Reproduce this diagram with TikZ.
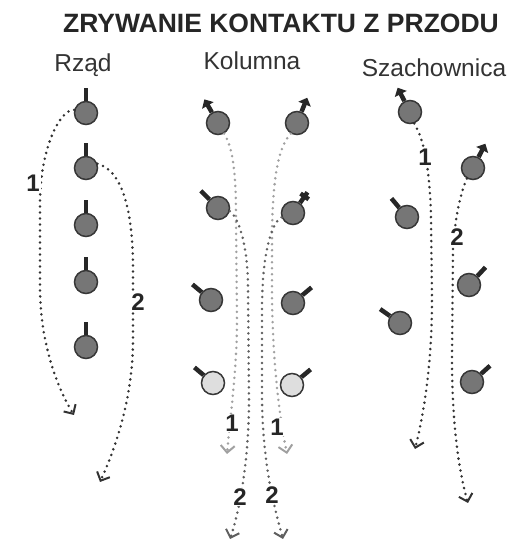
\documentclass[tikz,border=0pt]{standalone}
\usepackage{fontspec}
\setmainfont{Liberation Sans}
\usepackage{xcolor}
\definecolor{bodygray}{RGB}{118, 118, 118}
\definecolor{rimgray}{RGB}{55, 55, 55}
\definecolor{palefill}{RGB}{222, 222, 222}
\definecolor{trailgray}{RGB}{50, 50, 50}
\definecolor{paletrail}{RGB}{160, 160, 160}
\definecolor{midtrail}{RGB}{95, 95, 95}
\usetikzlibrary{arrows.meta, calc}

\tikzset{
  soldier/.style={circle, draw=rimgray, fill=bodygray, line width=1.5pt,
    minimum size=23pt, inner sep=0pt},
  rear/.style={soldier, fill=palefill},
  rifle/.style={line width=4.5pt, draw=rimgray!70!black},
  lead/.style={rifle, -{Triangle[length=7pt,width=13pt]}},
  trail/.style={line width=2.8pt, draw=trailgray, line cap=round,
    dash pattern=on 0pt off 6pt,
    -{Straight Barb[length=7pt,width=14pt,line width=2pt]}},
  num/.style={font=\bfseries\fontsize{24}{24}\selectfont, fill=white,
    inner sep=1pt, text=black!85},
  heading/.style={font=\fontsize{24.5}{24.5}\selectfont, anchor=base, text=black!80}
}

\begin{document}
\begin{tikzpicture}[x=1pt, y=1pt]
  \useasboundingbox (0,0) rectangle (518,549);

  % titles
  \node[anchor=base, text=black!85, font=\bfseries\fontsize{26.5}{26.5}\selectfont]
    (title) at (281,516) {ZRYWANIE KONTAKTU Z PRZODU};
  \node[heading] (hrow) at (83,477) {Rząd};
  \node[heading] (hcol) at (252,479) {Kolumna};
  \node[heading] (hchk) at (434,472) {Szachownica};

  % Rzad
  \foreach \i/\y in {1/436, 2/381, 3/324, 4/267, 5/202} {
    \node[soldier] (r\i) at (86,\y) {};
    \draw[rifle] (r\i.90) -- ++(90:13);
  }
  \coordinate (ar1) at (74,134);
  \coordinate (ar2) at (100,67);
  \draw[trail] (r1.165) .. controls (60,440) and (40,400) .. (40,346)
    -- (40,262) .. controls (40,205) and (58,160) .. (ar1);
  \draw[trail] (r2.20) .. controls (125,378) and (133,330) .. (133,280)
    -- (133,210) .. controls (133,150) and (115,100) .. (ar2);
  \node[num] (nr1) at (33,366) {1};
  \node[num] (nr2) at (138,247) {2};

  % Kolumna
  \node[soldier] (k1) at (218,426) {};
  \node[soldier] (k2) at (218,341) {};
  \node[soldier] (k3) at (211,249) {};
  \node[rear] (k4) at (213,166) {};
  \node[soldier] (k5) at (297,426) {};
  \node[soldier] (k6) at (293,336) {};
  \node[soldier] (k7) at (293,246) {};
  \node[rear] (k8) at (292,164) {};
  \draw[lead] (k1.120) -- ++(120:15);
  \draw[lead] (k5.68) -- ++(68:15);
  \draw[rifle] (k2.135) -- ++(135:12);
  \draw[rifle] (k6.55) -- ++(55:13);
  \draw[rifle] ($(k6.55)+(55:8)+(-35:5)$) -- ++(145:10);
  \draw[rifle] (k3.140) -- ++(140:12);
  \draw[rifle] (k7.40) -- ++(40:12);
  \draw[rifle] (k4.140) -- ++(140:12);
  \draw[rifle] (k8.40) -- ++(40:12);
  \coordinate (ak1) at (227,95);
  \coordinate (ak2) at (230,10);
  \coordinate (ak5) at (287,95);
  \coordinate (ak6) at (283,10);
  \draw[trail, draw=paletrail] (k1.-60) .. controls (234,400) and (236,370) .. (236,330)
    -- (237,230) .. controls (237,180) and (230,130) .. (ak1);
  \draw[trail, draw=midtrail] (k2.-15) .. controls (240,330) and (248,300) .. (248,260)
    -- (249,150) .. controls (249,90) and (240,40) .. (ak2);
  \draw[trail, draw=paletrail] (k5.-120) .. controls (276,400) and (273,360) .. (272,320)
    -- (272,250) .. controls (273,180) and (280,130) .. (ak5);
  \draw[trail, draw=midtrail] (k6.-160) .. controls (270,325) and (262,290) .. (262,240)
    -- (262,150) .. controls (263,80) and (275,40) .. (ak6);
  \node[num] (nk1) at (232,126) {1};
  \node[num] (nk5) at (277,122) {1};
  \node[num] (nk2) at (240,52) {2};
  \node[num] (nk6) at (272,54) {2};

  % Szachownica
  \node[soldier] (s1) at (410,437) {};
  \node[soldier] (s2) at (473,381) {};
  \node[soldier] (s3) at (407,332) {};
  \node[soldier] (s4) at (469,264) {};
  \node[soldier] (s5) at (400,226) {};
  \node[soldier] (s6) at (472,167) {};
  \draw[lead] (s1.117) -- ++(117:15);
  \draw[lead] (s2.63) -- ++(63:15);
  \draw[rifle] (s3.130) -- ++(130:12);
  \draw[rifle] (s4.47) -- ++(47:12);
  \draw[rifle] (s5.145) -- ++(145:12);
  \draw[rifle] (s6.42) -- ++(42:12);
  \coordinate (as1) at (415,100);
  \coordinate (as2) at (468,46);
  \draw[trail] (s1.-70) .. controls (424,410) and (430,380) .. (431,330)
    -- (432,250) .. controls (432,190) and (425,140) .. (as1);
  \draw[trail] (s2.-120) .. controls (460,355) and (455,330) .. (453,300)
    -- (452,190) .. controls (452,130) and (458,80) .. (as2);
  \node[num] (ns1) at (425,392) {1};
  \node[num] (ns2) at (457,312) {2};
\end{tikzpicture}
\end{document}
